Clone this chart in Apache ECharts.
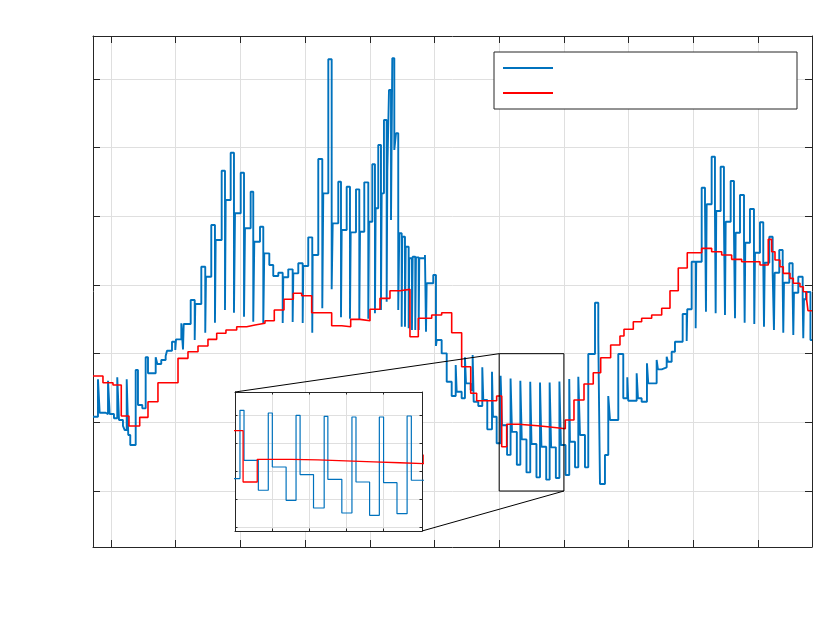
<!DOCTYPE html>
<html><head><meta charset="utf-8">
<script src="https://cdn.jsdelivr.net/npm/echarts@6/dist/echarts.min.js"></script>
<style>html,body{margin:0;padding:0;background:#fff}#c{width:830px;height:621px}</style>
</head><body><div id="c"></div>
<script>
// ---- data (stairs: each value holds until the next x) ----
const blueX = [-2.78,-2.01,-1.75,-0.82,-0.46,-0.20,0.46,0.97,1.24,1.85,2.12,2.43,2.67,2.98,3.82,4.17,4.84,5.36,5.72,6.91,7.16,7.77,8.45,8.66,9.43,9.94,10.05,10.87,11.13,11.24,12.32,12.94,13.03,13.96,14.57,14.68,15.50,
16.07,16.18,17.11,17.62,17.73,18.50,19.01,19.17,20.05,20.56,20.71,21.59,21.99,22.15,23.03,23.54,23.69,24.47,25.08,25.86,26.54,26.63,27.40,28.08,28.18,28.95,29.63,29.72,30.49,31.11,31.17,
32.04,32.66,32.81,33.59,34.11,34.27,35.13,35.55,35.66,36.43,36.94,37.05,37.87,38.38,38.49,39.15,39.77,39.88,40.39,40.80,40.91,41.31,41.73,41.84,42.19,42.61,42.71,42.97,43.28,43.48,43.79,44.05,44.40,44.56,44.93,45.02,45.44,45.55,46.01,46.11,46.52,46.63,47.03,47.14,47.56,47.65,48.53,48.69,48.79,49.81,
50.23,50.34,51.11,51.89,52.66,53.28,53.43,54.20,54.71,54.87,55.59,55.90,56.06,56.77,57.39,57.54,58.16,58.89,59.04,59.61,
60.22,60.44,61.22,61.76,61.98,62.73,63.27,63.49,64.22,64.80,65.00,65.76,66.31,66.53,67.27,67.80,68.03,68.76,69.31,69.54,
70.26,70.83,70.94,71.72,72.23,72.49,73.26,73.77,74.81,75.32,75.58,76.35,76.86,77.13,78.41,79.18,79.80,79.95,81.25,81.45,82.02,82.84,83.04,84.34,84.54,85.12,85.89,86.09,86.66,87.17,88.36,88.98,89.07,89.75,90.37,90.46,
91.30,91.81,91.96,92.07,92.84,93.35,93.46,93.55,94.23,94.74,94.90,95.01,95.78,96.29,96.45,96.55,97.22,97.84,97.94,98.04,98.76,99.38,99.43,99.54,100.31,100.82,100.93,101.04,101.75,102.27,102.47,102.58,103.29,103.82,103.91,104.02,104.84,105.36,105.46,105.56,106.23,106.91,107.00,107.11,107.42,108.11,108.35];
const blueY = [10.82,16.27,11.40,11.21,16.06,11.21,10.59,16.56,10.34,9.47,8.88,16.27,8.15,6.70,17.62,12.52,12.04,19.47,17.14,19.47,18.49,19.08,19.66,20.43,21.74,20.53,22.09,24.42,20.63,24.32,27.81,21.99,27.23,32.66,23.05,31.21,38.74,
24.51,36.55,46.64,26.36,42.38,49.27,25.96,40.44,46.35,25.38,38.26,43.59,24.65,36.30,38.49,24.46,34.61,32.91,31.31,31.79,24.46,31.12,32.28,24.61,31.70,33.16,24.46,32.77,36.94,23.05,34.37,
48.35,26.61,43.35,62.87,29.37,38.98,45.04,25.30,38.01,44.31,25.09,37.67,43.93,25.00,37.76,44.95,25.09,39.22,47.58,25.88,41.17,50.39,26.36,43.35,54.03,27.57,46.50,58.40,39.46,63.01,49.66,52.09,26.36,37.53,23.93,37.03,23.93,35.58,23.69,33.89,23.45,34.12,23.45,34.03,23.45,33.89,34.37,23.20,30.25,31.45,
21.12,21.99,20.05,15.92,13.83,18.35,14.46,13.50,19.47,15.68,14.71,19.80,13.00,12.38,18.01,13.25,8.98,17.37,10.82,6.95,
16.77,9.57,5.26,16.38,8.61,3.82,16.05,7.52,2.71,15.90,6.84,1.99,15.80,6.45,1.66,15.80,6.36,1.90,15.95,6.70,
2.33,16.31,7.18,3.45,16.64,8.15,3.45,19.95,27.42,22.09,1.02,5.24,13.83,10.34,19.95,13.50,16.56,13.15,17.14,13.50,13.00,18.60,15.68,19.08,17.72,18.01,19.56,18.83,20.29,21.74,25.78,21.84,26.46,33.39,23.69,33.39,
44.17,41.75,26.11,41.75,48.68,40.77,25.88,40.77,47.23,39.22,25.63,39.22,45.14,37.62,25.15,37.62,43.10,36.16,24.51,36.16,41.07,34.70,24.32,34.70,39.13,33.25,23.93,33.25,37.03,31.79,23.45,31.79,35.10,30.33,23.05,30.33,33.16,28.88,22.72,28.88,31.21,27.92,22.24,27.92,28.98,21.99,21.99];
const redX = [-2.78,-1.24,0.31,1.59,2.78,4.44,5.72,7.26,10.36,11.90,13.45,14.99,16.34,17.77,19.43,20.97,22.26,23.80,25.24,26.74,28.18,29.47,31.02,34.11,35.66,37.05,38.49,40.03,41.58,43.12,44.67,46.21,47.50,49.57,51.11,52.66,54.20,55.60,56.52,59.61,60.39,61.16,63.02,64.46,65.97,67.49,68.91,70.22,71.56,73.11,74.54,75.69,77.23,78.67,79.29,80.73,82.02,83.57,85.12,86.40,87.68,89.07,91.30,92.84,94.39,95.93,97.48,100.31,101.59,102.12,102.63,103.40,103.91,104.95,105.46,106.49,107.00,107.53,107.73,108.35];
const redY = [16.75,15.77,15.44,10.92,9.47,10.73,13.00,15.77,19.32,20.29,21.12,22.09,22.97,23.45,23.93,24.17,24.42,24.80,26.36,27.92,28.79,28.44,25.96,24.07,23.93,25.00,24.80,26.46,28.06,29.17,29.37,22.47,25.15,25.63,25.96,23.05,18.10,14.23,13.15,13.83,6.45,9.72,9.62,9.50,9.36,9.22,9.08,10.34,13.25,15.58,17.23,19.41,21.26,22.57,23.55,24.65,25.15,25.63,26.61,29.17,32.47,34.70,35.34,34.85,34.37,33.74,33.39,32.91,36.65,34.85,33.64,32.66,31.70,30.97,30.25,29.75,29.02,27.81,26.26,26.26];

const mainXRange = [-2.78, 108.35];
const mainYRange = [-8.15, 66.26];
const mainXTicks = [0,10,20,30,40,50,60,70,80,90,100];
const mainYTicks = [0,10,20,30,40,50,60];
const zoomX = [60, 70];
const zoomY = [0, 20];
const insetXRange = [59.95, 70.12];
const insetYRange = [-0.6, 19.4];
const insetXTicks = [62,64,66,68];
const insetYTicks = [0,4,8,12,16];

const AX = '#262626', GRID = '#dfdfdf', BLUE = '#0072BD', RED = '#FF0000';
const blueData = blueX.map((x,i)=>[x, blueY[i]]);
const redData = redX.map((x,i)=>[x, redY[i]]);

function ax(grid, pos, range, ticks, tickLen, showSplit, z){
  return {
    type:'value', gridIndex:grid, position:pos, min:range[0], max:range[1], z:z,
    axisLine:{show:true, onZero:false, lineStyle:{color:AX, width:1}},
    axisTick:{show:true, inside:true, length:tickLen, customValues:ticks, lineStyle:{color:AX, width:1}},
    axisLabel:{show:false, customValues:ticks},
    splitLine:{show:showSplit, lineStyle:{color:GRID, width:1}},
    splitArea:{show:false}
  };
}

const chart = echarts.init(document.getElementById('c'), null, {renderer:'canvas'});
chart.setOption({
  animation:false,
  backgroundColor:'#fff',
  grid:[
    {left:93, top:36, width:719, height:511, show:false},
    {left:235, top:392, width:187, height:139, show:false, z:5}
  ],
  xAxis:[
    ax(0,'bottom',mainXRange,mainXTicks,7,true,0),
    ax(0,'top',mainXRange,mainXTicks,7,false,0),
    ax(1,'bottom',insetXRange,insetXTicks,2.5,true,6),
    ax(1,'top',insetXRange,insetXTicks,2.5,false,6)
  ],
  yAxis:[
    ax(0,'left',mainYRange,mainYTicks,7,true,0),
    ax(0,'right',mainYRange,mainYTicks,7,false,0),
    ax(1,'left',insetYRange,insetYTicks,2.5,true,6),
    ax(1,'right',insetYRange,insetYTicks,2.5,false,6)
  ],
  legend:{
    data:['s1','s2'], left:494, top:52, orient:'vertical', icon:'rect',
    itemWidth:50, itemHeight:2, itemGap:23, padding:[15,239,15,9],
    formatter:()=> '', textStyle:{fontSize:2, lineHeight:2},
    backgroundColor:'#fff', borderColor:AX, borderWidth:1, borderRadius:0, selectedMode:false
  },
  series:[
    {name:'s1', type:'line', xAxisIndex:0, yAxisIndex:0, data:blueData, step:'end', showSymbol:false, lineStyle:{color:BLUE, width:1.9}, itemStyle:{color:BLUE}, z:2},
    {name:'s2', type:'line', xAxisIndex:0, yAxisIndex:0, data:redData, step:'end', showSymbol:false, lineStyle:{color:RED, width:1.6}, itemStyle:{color:RED}, z:3},
    {name:'i1', type:'line', xAxisIndex:2, yAxisIndex:2, data:blueData, step:'end', showSymbol:false, lineStyle:{color:BLUE, width:1.2}, z:7},
    {name:'i2', type:'line', xAxisIndex:2, yAxisIndex:2, data:redData, step:'end', showSymbol:false, lineStyle:{color:RED, width:1.3}, z:8}
  ]
});

// zoom box, inset backdrop and connector lines, positioned through the chart's own coordinate conversion
const bTL = chart.convertToPixel({gridIndex:0}, [zoomX[0], zoomY[1]]);
const bBR = chart.convertToPixel({gridIndex:0}, [zoomX[1], zoomY[0]]);
const iTL = chart.convertToPixel({gridIndex:1}, [insetXRange[0], insetYRange[1]]);
const iBR = chart.convertToPixel({gridIndex:1}, [insetXRange[1], insetYRange[0]]);
chart.setOption({
  graphic:[
    {type:'rect', z:4, silent:true, shape:{x:iTL[0], y:iTL[1], width:iBR[0]-iTL[0], height:iBR[1]-iTL[1]}, style:{fill:'#fff', stroke:null}},
    {type:'rect', z:20, shape:{x:bTL[0], y:bTL[1], width:bBR[0]-bTL[0], height:bBR[1]-bTL[1]}, style:{fill:null, stroke:'#000', lineWidth:1}},
    {type:'line', z:20, shape:{x1:iTL[0], y1:iTL[1], x2:bTL[0], y2:bTL[1]}, style:{stroke:'#000', lineWidth:1}},
    {type:'line', z:20, shape:{x1:iBR[0], y1:iBR[1], x2:bBR[0], y2:bBR[1]}, style:{stroke:'#000', lineWidth:1}}
  ]
});
</script></body></html>
